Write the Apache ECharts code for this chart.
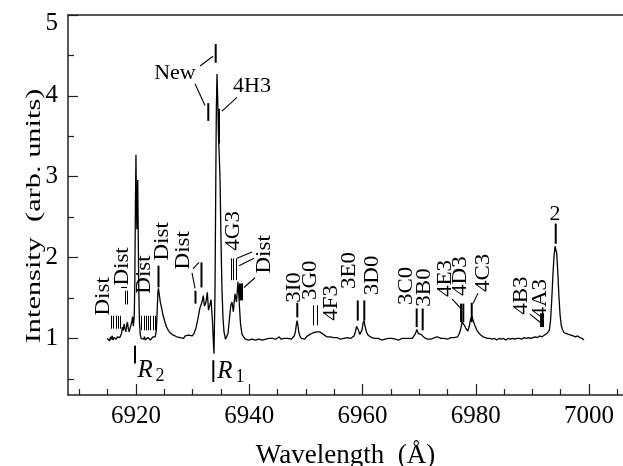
<!DOCTYPE html>
<html>
<head>
<meta charset="utf-8">
<script src="https://cdn.jsdelivr.net/npm/echarts@6/dist/echarts.min.js"></script>
<style>
  html, body { margin: 0; padding: 0; background: #fff; }
  #chart { width: 623px; height: 466px; }
</style>
</head>
<body>
<div id="chart"></div>
<script>
// tick values
var xMajor = [6920, 6940, 6960, 6980, 7000]
var xMinor = [6910, 6915, 6925, 6930, 6935, 6945, 6950, 6955, 6965, 6970, 6975, 6985, 6990, 6995, 7005]
var yMajor = [1, 2, 3, 4, 5]
var yMinor = [0.5, 1.5, 2.5, 3.5, 4.5]

// measured spectrum [wavelength (A), intensity]
var spectrum = [
  [6914.9, 1.00], [6915.05, 0.98], [6915.2, 1.01], [6915.35, 0.97], [6915.5, 1.02], [6915.65, 0.99],
  [6915.8, 1.03], [6915.95, 0.98], [6916.1, 1.01], [6916.25, 1.00], [6916.4, 1.03], [6916.55, 0.99],
  [6916.7, 1.02], [6916.85, 1.00], [6917.0, 1.04], [6917.15, 1.01], [6917.3, 1.03], [6917.45, 1.06],
  [6917.6, 1.14], [6917.75, 1.10], [6917.9, 1.18], [6918.05, 1.12], [6918.2, 1.08], [6918.35, 1.16],
  [6918.5, 1.20], [6918.65, 1.12], [6918.8, 1.08], [6918.95, 1.10], [6919.1, 1.06], [6919.25, 1.20],
  [6919.4, 1.27], [6919.55, 1.15], [6919.7, 1.28],
  [6919.8, 1.7], [6919.9, 2.6], [6920.0, 3.27], [6920.08, 2.7], [6920.16, 2.35], [6920.24, 2.6],
  [6920.31, 2.96], [6920.4, 2.3], [6920.5, 1.6], [6920.62, 1.2], [6920.75, 1.05], [6920.9, 1.0],
  [6921.05, 0.98], [6921.2, 1.01], [6921.35, 0.99], [6921.5, 1.02], [6921.65, 0.98], [6921.8, 1.00],
  [6921.95, 0.97], [6922.1, 1.01], [6922.25, 0.99], [6922.4, 1.02], [6922.55, 0.98], [6922.7, 1.00],
  [6922.85, 0.99], [6923.0, 1.02], [6923.15, 1.00], [6923.4, 1.02], [6923.6, 1.10], [6923.75, 1.35],
  [6923.88, 1.58], [6923.98, 1.62], [6924.1, 1.55], [6924.3, 1.45], [6924.54, 1.37], [6924.8, 1.28],
  [6925.13, 1.20], [6925.4, 1.14], [6925.72, 1.10], [6926.0, 1.07], [6926.31, 1.06], [6926.6, 1.04],
  [6926.9, 1.05], [6927.2, 1.02], [6927.5, 1.04], [6927.8, 1.01], [6928.1, 1.03], [6928.4, 1.00],
  [6928.7, 1.03], [6929.0, 1.01], [6929.3, 1.04], [6929.6, 1.02], [6929.9, 1.03],
  [6930.25, 1.06], [6930.6, 1.13], [6930.96, 1.25], [6931.31, 1.38], [6931.66, 1.45], [6931.89, 1.53],
  [6932.1, 1.40], [6932.37, 1.45], [6932.6, 1.57], [6932.81, 1.35], [6933.08, 1.42], [6933.25, 1.48],
  [6933.52, 1.2], [6933.7, 0.9], [6933.78, 0.81], [6933.96, 1.6], [6934.1, 2.99], [6934.19, 3.8],
  [6934.31, 4.27], [6934.42, 4.0], [6934.58, 3.5], [6934.84, 3.0], [6935.02, 2.2], [6935.19, 1.6],
  [6935.37, 1.25], [6935.55, 1.08], [6935.81, 0.99], [6935.99, 0.98], [6936.25, 1.06], [6936.52, 1.25],
  [6936.73, 1.40], [6936.96, 1.45], [6937.19, 1.33], [6937.49, 1.55], [6937.75, 1.45], [6938.02, 1.70],
  [6938.23, 1.45], [6938.46, 1.18], [6938.73, 1.05], [6938.99, 1.02],
  [6939.3, 0.99], [6939.6, 1.01], [6939.9, 0.98], [6940.2, 1.00], [6940.5, 0.99], [6940.8, 1.01],
  [6941.1, 0.98], [6941.4, 1.00], [6941.7, 0.99], [6942.0, 1.01], [6942.3, 0.98], [6942.6, 1.00],
  [6942.9, 0.99], [6943.2, 1.01], [6943.5, 1.00], [6943.8, 0.98], [6944.1, 1.00], [6944.4, 1.01],
  [6944.7, 0.99], [6945.0, 1.00], [6945.3, 1.02], [6945.6, 0.99], [6945.9, 1.01], [6946.2, 1.00],
  [6946.5, 1.02], [6946.8, 1.00], [6947.1, 1.01], [6947.4, 0.99], [6947.7, 1.01], [6947.95, 1.03],
  [6948.15, 1.08], [6948.3, 1.16], [6948.45, 1.22], [6948.6, 1.16], [6948.75, 1.08], [6948.95, 1.03],
  [6949.2, 1.00], [6949.5, 1.01], [6949.8, 0.99], [6950.1, 1.02], [6950.4, 1.03], [6950.7, 1.05],
  [6951.0, 1.06], [6951.3, 1.07], [6951.6, 1.06], [6951.9, 1.08], [6952.2, 1.07], [6952.5, 1.08],
  [6952.8, 1.06], [6953.1, 1.05], [6953.4, 1.03], [6953.7, 1.02], [6954.0, 1.01], [6954.3, 1.02],
  [6954.6, 1.00], [6954.9, 1.01], [6955.2, 0.99], [6955.5, 1.01], [6955.8, 1.00], [6956.1, 0.99],
  [6956.4, 1.01], [6956.7, 1.00], [6957.0, 0.99], [6957.3, 1.01], [6957.6, 1.00], [6957.9, 1.00],
  [6958.2, 1.01], [6958.5, 1.03], [6958.75, 1.08], [6958.95, 1.15], [6959.1, 1.17], [6959.3, 1.10],
  [6959.5, 1.05], [6959.7, 1.04], [6959.9, 1.10], [6960.1, 1.19], [6960.27, 1.22], [6960.45, 1.15],
  [6960.7, 1.08], [6961.0, 1.04], [6961.3, 1.02], [6961.6, 1.01], [6961.9, 0.99], [6962.2, 1.00],
  [6962.5, 0.98], [6962.8, 1.00], [6963.1, 0.99], [6963.4, 0.98], [6963.7, 1.00], [6964.0, 0.99],
  [6964.3, 0.98], [6964.6, 1.00], [6964.9, 0.99], [6965.2, 1.00], [6965.5, 0.98], [6965.8, 0.99],
  [6966.1, 1.00], [6966.4, 0.98], [6966.7, 0.99], [6967.0, 1.00], [6967.3, 0.99], [6967.6, 1.00],
  [6967.9, 0.98], [6968.2, 1.00], [6968.5, 0.99], [6968.8, 1.00], [6969.1, 1.02], [6969.35, 1.06],
  [6969.6, 1.11], [6969.85, 1.06], [6970.1, 1.04], [6970.35, 1.05], [6970.6, 1.04], [6970.9, 1.01],
  [6971.2, 1.00], [6971.5, 0.99], [6971.8, 1.00], [6972.1, 0.99], [6972.4, 1.00], [6972.7, 1.01],
  [6973.0, 1.00], [6973.2, 1.02], [6973.35, 1.04], [6973.5, 1.01], [6973.8, 1.00], [6974.1, 0.99],
  [6974.4, 1.00], [6974.7, 1.00], [6975.0, 0.99], [6975.3, 1.00], [6975.6, 1.01], [6975.9, 1.00],
  [6976.2, 1.01], [6976.5, 1.00], [6976.8, 1.02], [6977.1, 1.06], [6977.35, 1.12], [6977.6, 1.20],
  [6977.75, 1.22], [6978.0, 1.16], [6978.3, 1.12], [6978.6, 1.09], [6978.85, 1.15], [6979.1, 1.24],
  [6979.3, 1.27], [6979.55, 1.22], [6979.85, 1.16], [6980.2, 1.10], [6980.5, 1.07], [6980.9, 1.04],
  [6981.3, 1.02], [6981.7, 1.01], [6982.1, 1.00], [6982.5, 1.00], [6982.9, 0.99], [6983.3, 1.00],
  [6983.7, 0.98], [6984.1, 1.00], [6984.5, 0.99], [6984.9, 1.00], [6985.3, 0.98], [6985.7, 1.00],
  [6986.1, 0.99], [6986.5, 1.00], [6986.9, 0.99], [6987.3, 1.00], [6987.7, 1.00], [6988.1, 0.99],
  [6988.5, 1.01], [6988.9, 1.00], [6989.3, 1.01], [6989.7, 1.00], [6990.1, 1.01], [6990.5, 1.02],
  [6990.9, 1.01], [6991.3, 1.03], [6991.7, 1.02], [6992.1, 1.04], [6992.4, 1.05], [6992.7, 1.07],
  [6993.0, 1.10], [6993.2, 1.22], [6993.4, 1.45], [6993.6, 1.75], [6993.8, 2.0], [6994.0, 2.14],
  [6994.12, 2.15], [6994.3, 2.05], [6994.5, 1.8], [6994.7, 1.5], [6994.9, 1.28], [6995.1, 1.16],
  [6995.3, 1.11], [6995.6, 1.07], [6996.0, 1.06], [6996.4, 1.05], [6996.8, 1.04], [6997.2, 1.03],
  [6997.6, 1.02], [6998.0, 1.03], [6998.4, 1.01], [6998.8, 1.00], [6999.1, 0.98]
]

// thin markers in the "Dist" clusters [wavelength, low, high]
var clusterBars = [
  [6915.6, 1.12, 1.28], [6916.0, 1.12, 1.28], [6916.4, 1.12, 1.28], [6916.8, 1.12, 1.28], [6917.2, 1.12, 1.28],
  [6920.95, 1.10, 1.28], [6921.35, 1.10, 1.28], [6921.75, 1.10, 1.28], [6922.15, 1.10, 1.28],
  [6922.55, 1.10, 1.28], [6922.95, 1.10, 1.28], [6923.35, 1.10, 1.28],
  [6917.98, 1.42, 1.59], [6918.38, 1.42, 1.59],
  [6936.78, 1.72, 1.99], [6937.2, 1.72, 1.99], [6937.62, 1.72, 1.99],
  [6951.32, 1.16, 1.41], [6952.02, 1.16, 1.41]
]

// single line markers [wavelength, low, high]
var markerBars = [
  [6923.98, 1.63, 1.90],
  [6930.51, 1.43, 1.59], [6931.57, 1.63, 1.94],
  [6919.83, 0.69, 0.91], [6933.66, 0.46, 0.73],
  [6934.08, 4.41, 4.64], [6932.77, 3.69, 3.91], [6934.66, 3.41, 3.84],
  [6938.37, 1.47, 1.68], [6938.73, 1.47, 1.68],
  [6948.49, 1.26, 1.44],
  [6959.16, 1.22, 1.47], [6960.32, 1.22, 1.47],
  [6969.57, 1.14, 1.37], [6970.63, 1.10, 1.37],
  [6977.4, 1.20, 1.43], [6977.8, 1.20, 1.43], [6979.29, 1.20, 1.44],
  [6991.53, 1.14, 1.31], [6991.88, 1.14, 1.31],
  [6994.12, 2.17, 2.42]
]

// leader lines [w1, i1, w2, i2]
var leaders = [
  [6917.36, 1.63, 6918.42, 1.63],
  [6929.9, 1.81, 6930.43, 1.62], [6930.07, 1.86, 6931.13, 1.94],
  [6931.31, 4.37, 6933.6, 4.49], [6930.43, 4.15, 6932.19, 3.88],
  [6937.84, 3.98, 6935.19, 3.81],
  [6937.84, 1.99, 6940.49, 2.07], [6938.2, 1.90, 6940.84, 1.99], [6939.08, 1.63, 6941.02, 1.75],
  [6975.81, 1.49, 6977.22, 1.38], [6980.4, 1.56, 6979.52, 1.43],
  [6989.58, 1.30, 6991.35, 1.20]
]

// rotated labels [wavelength, intensity, text]
var sideLabels = [
  [6914.36, 1.52, 'Dist'], [6917.71, 1.89, 'Dist'], [6921.6, 1.79, 'Dist'], [6924.78, 2.20, 'Dist'],
  [6928.48, 2.09, 'Dist'], [6937.31, 2.33, '4G3'], [6942.79, 2.04, 'Dist'],
  [6948.08, 1.63, '3I0'], [6950.91, 1.72, '3G0'], [6954.62, 1.44, '4F3'], [6957.8, 1.84, '3E0'],
  [6961.86, 1.78, '3D0'], [6967.86, 1.65, '3C0'], [6971.04, 1.63, '3B0'], [6974.75, 1.74, '4E3'],
  [6977.4, 1.77, '4D3'], [6981.46, 1.81, '4C3'], [6988.17, 1.53, '4B3'], [6991.53, 1.49, '4A3']
]

// upright labels
var flatLabels = [
  [6926.89, 4.28, 'New'], [6940.49, 4.12, '4H3'], [6994.0, 2.54, '2']
]

// R lines [wavelength, intensity, subscript]
var rLabels = [
  [6922.66, 0.60, '2'], [6936.78, 0.59, '1']
]

var serif = '"Liberation Serif", "Times New Roman", serif'
var chart = echarts.init(document.getElementById('chart'), null, { renderer: 'canvas' })

function axisX(extra) {
  return Object.assign({
    type: 'value',
    min: 6908,
    max: 7006,
    splitLine: { show: false },
    axisLine: { show: false },
    axisLabel: { show: false },
    axisTick: { show: false }
  }, extra)
}

function axisY(extra) {
  return Object.assign({
    type: 'value',
    min: 0.3,
    max: 5,
    splitLine: { show: false },
    axisLine: { show: false },
    axisLabel: { show: false },
    axisTick: { show: false }
  }, extra)
}

function barSeries(data, width, snap) {
  return {
    type: 'custom',
    data: data,
    silent: true,
    encode: { x: 0, y: [1, 2] },
    renderItem: function (params, api) {
      var a = api.coord([api.value(0), api.value(1)])
      var b = api.coord([api.value(0), api.value(2)])
      var x = snap ? Math.round(a[0]) + 0.5 : a[0]
      return {
        type: 'line',
        shape: { x1: x, y1: a[1], x2: x, y2: b[1] },
        style: { stroke: '#000', lineWidth: width }
      }
    }
  }
}

chart.setOption({
  animation: false,
  grid: { left: 68, right: 0, top: 15, bottom: 71, outerBoundsMode: 'none' },
  // the original figure is stretched vertically, so the rotated title is drawn stretched along its length
  graphic: [{
    type: 'text',
    x: 34,
    y: 216,
    rotation: Math.PI / 2,
    scaleX: 1.38,
    silent: true,
    style: {
      text: 'Intensity  (arb. units)',
      font: '22px ' + serif,
      fill: '#000',
      align: 'center',
      verticalAlign: 'middle'
    }
  }],
  xAxis: [
    axisX({
      position: 'bottom',
      name: 'Wavelength  (Å)',
      nameLocation: 'middle',
      nameGap: 47,
      nameTextStyle: { fontFamily: serif, fontSize: 27, color: '#000' },
      axisLine: { show: true, lineStyle: { color: '#222', width: 1.5 } },
      axisTick: { show: true, inside: true, length: 11, customValues: xMajor, lineStyle: { color: '#222', width: 1.2 } },
      axisLabel: {
        show: true, customValues: xMajor, margin: 9, fontFamily: serif, fontSize: 25, color: '#000',
        formatter: function (v) { return String(v) }
      }
    }),
    axisX({
      position: 'bottom',
      axisTick: { show: true, inside: true, length: 6, customValues: xMinor, lineStyle: { color: '#222', width: 1.2 } }
    }),
    axisX({
      position: 'top',
      axisLine: { show: true, lineStyle: { color: '#222', width: 1.5 } }
    })
  ],
  yAxis: [
    axisY({
      position: 'left',
      axisLine: { show: true, lineStyle: { color: '#222', width: 1.5 } },
      axisTick: { show: true, inside: true, length: 10, customValues: yMajor, lineStyle: { color: '#222', width: 1.2 } },
      axisLabel: {
        show: true, customValues: yMajor, margin: 10, fontFamily: serif, fontSize: 25, color: '#000',
        formatter: function (v) { return v === 5 ? '{t|5}' : String(v) },
        rich: { t: { fontFamily: serif, fontSize: 25, color: '#000', padding: [16, 0, 0, 0] } }
      }
    }),
    axisY({
      position: 'left',
      axisTick: { show: true, inside: true, length: 6, customValues: yMinor, lineStyle: { color: '#222', width: 1.2 } }
    })
  ],
  series: [
    {
      type: 'line',
      data: spectrum,
      showSymbol: false,
      lineStyle: { color: '#000', width: 1.3 },
      silent: true
    },
    barSeries(clusterBars, 1, true),
    barSeries(markerBars, 2, false),
    {
      type: 'custom',
      data: leaders,
      silent: true,
      encode: { x: [0, 2], y: [1, 3] },
      renderItem: function (params, api) {
        var a = api.coord([api.value(0), api.value(1)])
        var b = api.coord([api.value(2), api.value(3)])
        return {
          type: 'line',
          shape: { x1: a[0], y1: a[1], x2: b[0], y2: b[1] },
          style: { stroke: '#000', lineWidth: 1.1 }
        }
      }
    },
    {
      type: 'custom',
      data: sideLabels.map(function (d) { return [d[0], d[1]] }),
      silent: true,
      renderItem: function (params, api) {
        var p = api.coord([api.value(0), api.value(1)])
        return {
          type: 'text',
          x: p[0],
          y: p[1],
          rotation: Math.PI / 2,
          scaleX: 1.15,
          style: {
            text: sideLabels[params.dataIndex][2],
            font: '20px ' + serif,
            fill: '#000',
            align: 'center',
            verticalAlign: 'middle'
          }
        }
      }
    },
    {
      type: 'custom',
      data: flatLabels.map(function (d) { return [d[0], d[1]] }),
      silent: true,
      renderItem: function (params, api) {
        var p = api.coord([api.value(0), api.value(1)])
        return {
          type: 'text',
          x: p[0],
          y: p[1],
          style: {
            text: flatLabels[params.dataIndex][2],
            font: '22px ' + serif,
            fill: '#000',
            align: 'center',
            verticalAlign: 'middle'
          }
        }
      }
    },
    {
      type: 'custom',
      data: rLabels.map(function (d) { return [d[0], d[1]] }),
      silent: true,
      renderItem: function (params, api) {
        var p = api.coord([api.value(0), api.value(1)])
        return {
          type: 'group',
          children: [
            {
              type: 'text',
              x: p[0] - 6,
              y: p[1],
              style: { text: 'R', font: 'italic 25px ' + serif, fill: '#000', align: 'center', verticalAlign: 'middle' }
            },
            {
              type: 'text',
              x: p[0] + 9,
              y: p[1] + 6,
              style: { text: rLabels[params.dataIndex][2], font: '18px ' + serif, fill: '#000', align: 'center', verticalAlign: 'middle' }
            }
          ]
        }
      }
    }
  ]
})
</script>
</body>
</html>
